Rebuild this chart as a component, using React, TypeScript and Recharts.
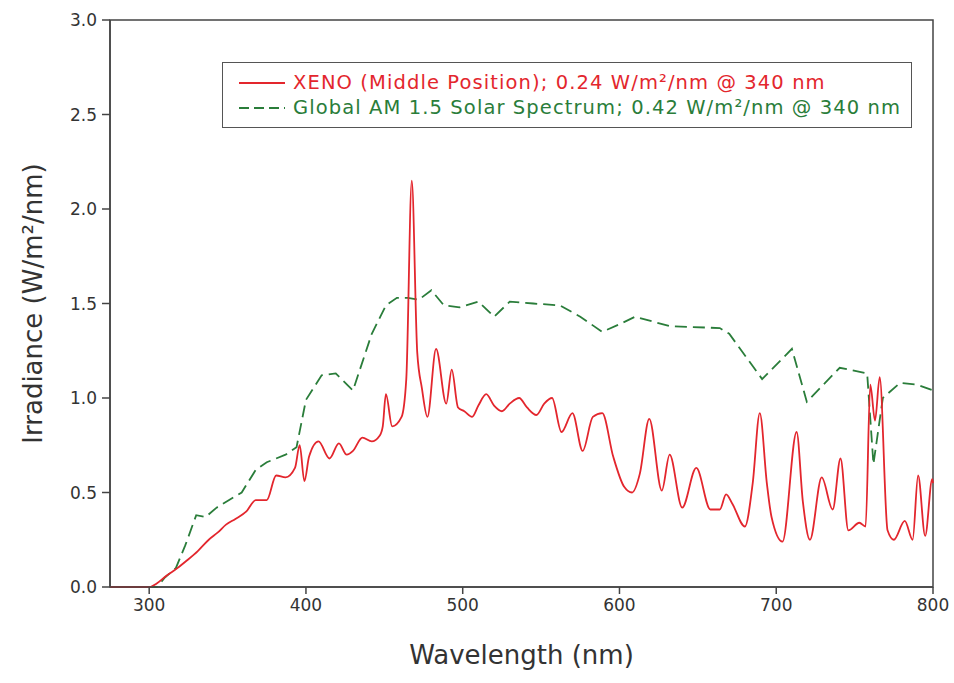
import { Label, Legend, Line, LineChart, ReferenceArea, XAxis, YAxis } from "recharts";

// XENO lamp (middle position) spectrum
const xenoWavelength = [
  275, 290, 300, 305, 311, 318, 324, 331, 338, 344, 349, 355, 362, 368, 375, 381, 387, 393, 396, 399,
  402, 408, 415, 421, 426, 430, 436, 442, 447, 449, 451, 455, 461, 464, 467.5, 471, 474, 477.5, 483, 489.5,
  493, 497, 501, 506, 510, 515, 520, 525, 530, 536, 541, 547, 552, 557, 563, 570, 576.5, 583, 589, 596,
  603, 608, 613, 619, 627, 632, 640, 649, 658, 664, 668, 672, 680, 685, 689.5, 694, 697, 704, 713, 717,
  721.5, 729, 736, 741, 746, 753, 757, 760, 763, 766, 771, 775, 782, 787, 790.5, 795, 799.5, 800,
];
const xenoIrradiance = [
  0, 0, 0, 0.02, 0.06, 0.1, 0.14, 0.19, 0.25, 0.29, 0.33, 0.36, 0.4, 0.46, 0.46, 0.59, 0.58, 0.63, 0.75, 0.56,
  0.69, 0.77, 0.68, 0.76, 0.7, 0.72, 0.79, 0.77, 0.8, 0.85, 1.02, 0.85, 0.9, 1.1, 2.15, 1.24, 1.05, 0.9, 1.26, 0.97,
  1.15, 0.95, 0.93, 0.9, 0.96, 1.02, 0.96, 0.93, 0.97, 1.0, 0.95, 0.91, 0.97, 1.0, 0.82, 0.92, 0.72, 0.9, 0.92, 0.69,
  0.53, 0.5, 0.6, 0.89, 0.51, 0.7, 0.42, 0.63, 0.41, 0.41, 0.49, 0.44, 0.32, 0.55, 0.92, 0.55, 0.37, 0.24, 0.82, 0.45,
  0.25, 0.58, 0.41, 0.68, 0.3, 0.34, 0.32, 1.07, 0.88, 1.11, 0.3, 0.25, 0.35, 0.25, 0.59, 0.27, 0.57, 0.55,
];

// Global AM 1.5 solar spectrum
const globalWavelength = [
  275, 300, 305, 310, 317, 323, 330, 336, 343, 351, 359, 368, 375, 387, 394, 400, 410, 419, 430, 442,
  451, 458, 465, 472, 480, 488, 498, 510, 520, 530, 545, 562, 575, 589, 600, 610, 632, 664, 670, 691,
  710, 719.5, 740.5, 758, 762, 768, 779, 790, 800,
];
const globalIrradiance = [
  0, 0, 0, 0.05, 0.1, 0.22, 0.38, 0.37, 0.42, 0.46, 0.5, 0.62, 0.66, 0.7, 0.74, 0.99, 1.12, 1.13, 1.04, 1.34,
  1.49, 1.53, 1.53, 1.52, 1.57, 1.49, 1.48, 1.51, 1.43, 1.51, 1.5, 1.49, 1.43, 1.35, 1.39, 1.43, 1.38, 1.37, 1.34, 1.1,
  1.26, 0.98, 1.16, 1.13, 0.65, 1.0, 1.08, 1.07, 1.04,
];

const xTicks = [300, 400, 500, 600, 700, 800];
const yTicks = [0, 0.5, 1, 1.5, 2, 2.5, 3];

const xenoData = xenoWavelength.map((nm, i) => ({ nm, value: xenoIrradiance[i] }));
const globalData = globalWavelength.map((nm, i) => ({ nm, value: globalIrradiance[i] }));

const RED = "#e3262d";
const GREEN = "#2a7d3a";
const AXIS = "#444";
const FONT = "'DejaVu Sans', sans-serif";

function LegendBox() {
  const row = (color: string, dash: string | undefined, text: string) => (
    <div style={{ display: "flex", alignItems: "center", height: 25 }}>
      <svg width={52} height={10} style={{ marginRight: 4, flexShrink: 0 }}>
        <line x1={2} y1={5} x2={48} y2={5} stroke={color} strokeWidth={2} strokeDasharray={dash} />
      </svg>
      <span style={{ color, fontSize: 19.5, letterSpacing: 1.1, whiteSpace: "nowrap" }}>{text}</span>
    </div>
  );
  return (
    <div
      style={{
        border: "1.5px solid #555",
        background: "#fff",
        padding: "7px 0 7px 14px",
        fontFamily: FONT,
        boxSizing: "border-box",
        width: 690,
      }}
    >
      {row(RED, undefined, "XENO (Middle Position); 0.24 W/m²/nm @ 340 nm")}
      {row(GREEN, "10 5", "Global AM 1.5 Solar Spectrum; 0.42 W/m²/nm @ 340 nm")}
    </div>
  );
}

export default function App() {
  return (
    <div style={{ position: "absolute", left: 0, top: 0, width: 954, height: 683, background: "#fff" }}>
      <LineChart width={954} height={683} margin={{ top: 20, right: 21, left: 20, bottom: 26 }}>
        <XAxis
          dataKey="nm"
          type="number"
          domain={[275, 800]}
          ticks={xTicks}
          allowDuplicatedCategory={false}
          height={70}
          stroke={AXIS}
          strokeWidth={1.5}
          tickSize={7}
          tickMargin={5}
          tick={{ fill: "#333", fontSize: 17, fontFamily: FONT }}
        >
          <Label
            value="Wavelength (nm)"
            position="insideBottom"
            offset={-7}
            style={{ fontSize: 26, fontFamily: FONT, fill: "#333" }}
          />
        </XAxis>
        <YAxis
          type="number"
          domain={[0, 3]}
          ticks={yTicks}
          width={90}
          stroke={AXIS}
          strokeWidth={1.5}
          tickSize={8}
          tickMargin={5}
          tickFormatter={(v: number) => v.toFixed(1)}
          tick={{ fill: "#333", fontSize: 17, fontFamily: FONT }}
        >
          <Label
            value="Irradiance (W/m²/nm)"
            position="center"
            angle={-90}
            dx={-32}
            style={{ fontSize: 26, fontFamily: FONT, fill: "#333", textAnchor: "middle" }}
          />
        </YAxis>
        <ReferenceArea x1={275} x2={800} y1={0} y2={3} fill="none" stroke={AXIS} strokeWidth={1.5} ifOverflow="visible" />
        <Line
          data={globalData}
          dataKey="value"
          type="linear"
          stroke={GREEN}
          strokeWidth={1.8}
          strokeDasharray="12 6"
          dot={false}
          isAnimationActive={false}
        />
        <Line
          data={xenoData}
          dataKey="value"
          type="monotone"
          stroke={RED}
          strokeWidth={1.8}
          dot={false}
          isAnimationActive={false}
        />
        <Legend
          layout="horizontal"
          verticalAlign="middle"
          align="center"
          content={() => <LegendBox />}
          wrapperStyle={{ left: 222, top: 62, width: 690 }}
        />
      </LineChart>
    </div>
  );
}
